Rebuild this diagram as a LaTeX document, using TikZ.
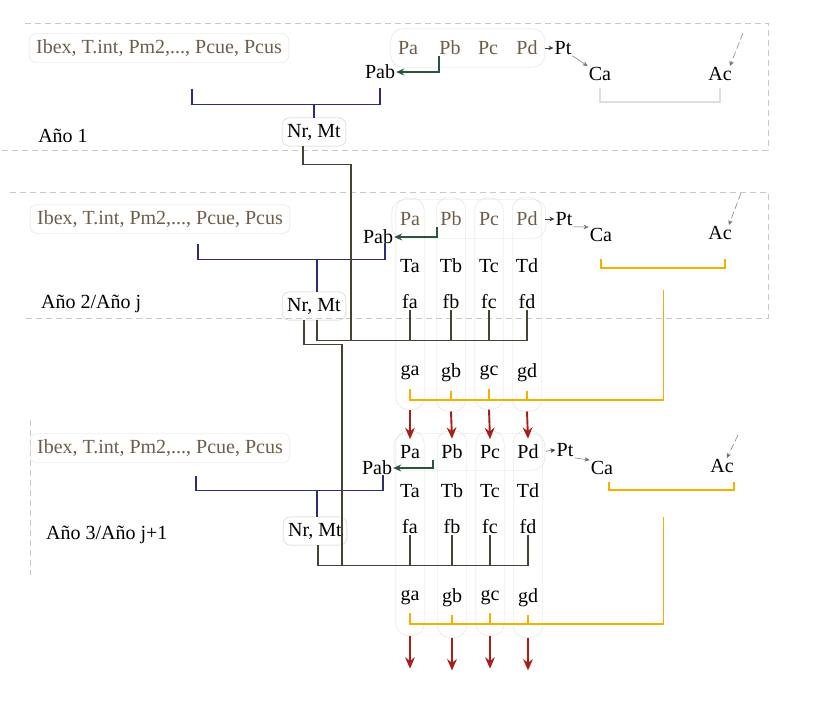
\documentclass[tikz,border=0pt]{standalone}
\usepackage{fontspec}
\setmainfont{Liberation Serif}
\usetikzlibrary{arrows.meta,positioning,calc,fit}
\definecolor{diagbrown} {RGB}{110,92,72}
\definecolor{diagblue}  {RGB}{45,45,125}
\definecolor{diagolive} {RGB}{72,66,50}
\definecolor{diaggreen} {RGB}{40,85,60}
\definecolor{diagorange}{RGB}{248,176,0}
\definecolor{diagred}   {RGB}{170,30,25}
\definecolor{diaggray}  {RGB}{200,200,200}
\definecolor{diaglight} {RGB}{222,222,222}

\begin{document}
\begin{tikzpicture}[
  x=1pt, y=-1pt,
  every node/.style={font=\fontsize{20}{22}\selectfont, inner sep=1pt},
  inbox/.style={text=diagbrown, draw=diaglight, rounded corners=7pt, inner xsep=7pt, inner ysep=6pt},
  nmbox/.style={draw=diaggray, rounded corners=7pt, inner xsep=5pt, inner ysep=6pt},
  capsule/.style={draw=diaglight, rounded corners=12pt},
  zone/.style={diaggray, dash pattern=on 6pt off 4pt},
  blu/.style={diagblue, line width=1.2pt},
  olv/.style={diagolive, line width=1.2pt},
  org/.style={diagorange, line width=1.6pt},
  redarr/.style={diagred, line width=1.9pt, -{Stealth[length=4mm,width=3.4mm]}},
  grnarr/.style={diaggreen, line width=1.4pt, -{Stealth[length=2.8mm,width=2.4mm]}},
  tip/.style={black!75, line width=0.5pt, -{Stealth[length=1.8mm,width=1.6mm]}},
]
\useasboundingbox (0,0) rectangle (814,701);

%% Year zones
\draw[zone] (25,23) -- (768,23) -- (768,150) -- (0,150);
\draw[zone] (10,192) -- (768,192) -- (768,318) -- (25,318);
\draw[zone] (30,420) -- (30,575);

%% ---------------- Year 1 ----------------
\node[inbox] (in1) at (159,48) {Ibex, T.int, Pm2,..., Pcue, Pcus};
\foreach \c/\x in {a/408,b/450,c/488,d/527}
  \node[text=diagbrown] (p1\c) at (\x,48) {P\c};
\node[capsule, fit=(p1a)(p1d), inner xsep=6pt, inner ysep=11pt] (row1) {};
\node (pab1) at (380,72) {Pab};
\node (pt1) at (563,48) {Pt};
\node (ca1) at (600,74) {Ca};
\node (ac1) at (720,74) {Ac};
\node[nmbox] (nm1) at (314,132) {Nr, Mt};
\node (yr1) at (63,136) {Año 1};
\coordinate (ain1) at (743,33);

\draw[grnarr] ([xshift=-11pt]p1b.south) |- (pab1.east);
\draw[tip, shorten <=6pt] (p1d.east) -- (pt1.west);
\draw[tip, black!55] (pt1.south east) -- (ca1.north west);
\draw[tip, black!55, dash pattern=on 7pt off 3pt] (ain1) -- ([xshift=-3pt]ac1.north east);
\draw[blu] ([xshift=33pt,yshift=-26pt]in1.south) -- ++(0,16) coordinate (bl1)
  -| ([yshift=-8pt]pab1.south);
\draw[blu] (nm1.north) -- (nm1.north |- bl1);
\draw[diaglight, line width=1.3pt] ([yshift=-6pt]ca1.south) -- ++(0,14)
  -| ([yshift=-6pt]ac1.south);

%% ---------------- Year 2 / j ----------------
\node[inbox] (in2) at (160,219) {Ibex, T.int, Pm2,..., Pcue, Pcus};
\node[nmbox] (nm2) at (314,306) {Nr, Mt};
\node[anchor=west] (yr2) at (40,304) {Año 2/Año j};
\node (pab2) at (378,237) {Pab};
\foreach \c/\x in {a/410,b/451,c/489,d/527}{
  \node[text=diagbrown] (p2\c) at (\x,219) {P\c};
  \node (t2\c) at (\x,266) {T\c};
  \node (f2\c) at (\x,302) {f\c};
  \node (g2\c) at (\x,373) {g\c};
  \coordinate (e2\c) at ([yshift=-15pt]g2\c.south);
  \node[capsule, fit=(p2\c)(e2\c), inner xsep=3pt, inner ysep=13pt] (c2\c) {};
}
\node[capsule, fit=(p2a)(p2d), inner xsep=7pt, inner ysep=11pt] (row2) {};
\node (pt2) at (564,219) {Pt};
\node (ca2) at (601,235) {Ca};
\node (ac2) at (720,233) {Ac};
\coordinate (ain2) at (741,193);

\draw[grnarr] ([xshift=-14pt]p2b.south) |- (pab2.east);
\draw[tip, shorten <=6pt] (p2d.east) -- (pt2.west);
\draw[tip, black!55] (pt2.south east) -- (ca2.north west);
\draw[tip, black!55, dash pattern=on 7pt off 3pt] (ain2) -- ([xshift=-4pt]ac2.north east);
\draw[blu] ([xshift=38pt,yshift=-10pt]in2.south) -- ++(0,16) coordinate (bl2)
  -| ([xshift=7pt,yshift=2pt]pab2.south);
\draw[blu] ([xshift=3pt]nm2.north) -- ([xshift=3pt]nm2.north |- bl2);
\draw[olv] ([xshift=3pt]nm2.south) -- ++(0,20) coordinate (bar2) -| (f2d.south);
\foreach \c in {a,b,c}
  \draw[olv] (f2\c.south) -- (f2\c.south |- bar2);
\draw[olv] ([xshift=-11pt]nm1.south) -- ++(0,18) -- ++(48,0) coordinate (k1) -- (k1 |- bar2);
\draw[org] ([yshift=-16pt]ca2.south) -- ++(0,9) coordinate (cb2)
  -| ([xshift=5pt,yshift=-18pt]ac2.south);
\coordinate (om2) at ($(cb2)!0.5!(cb2 -| ac2.south)$);
\draw[org] ([xshift=3pt,yshift=-22pt]om2) -- ++(0,110) coordinate (ob2)
  -| ([yshift=-8pt]g2a.south);
\foreach \c in {b,c,d}
  \draw[org] ([yshift=-8pt]g2\c.south) -- (g2\c.south |- ob2);

%% ---------------- Year 3 / j+1 ----------------
\node[inbox] (in3) at (160,448) {Ibex, T.int, Pm2,..., Pcue, Pcus};
\node[nmbox] (nm3) at (315,531) {Nr, Mt};
\node[anchor=west] (yr3) at (45,535) {Año 3/Año j+1};
\node (pab3) at (377,468) {Pab};
\foreach \c/\x in {a/410,b/452,c/490,d/528}{
  \node (p3\c) at (\x,452) {P\c};
  \node (t3\c) at (\x,491) {T\c};
  \node (f3\c) at (\x,527) {f\c};
  \node (g3\c) at (\x,598) {g\c};
  \coordinate (e3\c) at ([yshift=-16pt]g3\c.south);
  \node[capsule, fit=(p3\c)(e3\c), inner xsep=3pt, inner ysep=13pt] (c3\c) {};
}
\node[capsule, fit=(p3a)(p3d), inner xsep=5pt, inner ysep=10pt] (row3) {};
\node (pt3) at (565,450) {Pt};
\node (ca3) at (602,468) {Ca};
\node (ac3) at (722,466) {Ac};
\coordinate (ain3) at (738,435);

\draw[grnarr] ([xshift=-19pt]p3b.south) |- (pab3.east);
\draw[tip, shorten <=6pt] (p3d.east) -- (pt3.west);
\draw[tip, black!55] (pt3.south east) -- (ca3.north west);
\draw[tip, black!55, dash pattern=on 7pt off 3pt] (ain3) -- ([xshift=-8pt]ac3.north east);
\draw[blu] ([xshift=36pt,yshift=-13pt]in3.south) -- ++(0,15) coordinate (bl3)
  -| ([xshift=6pt,yshift=1pt]pab3.south);
\draw[blu] ([xshift=2pt]nm3.north) -- ([xshift=2pt]nm3.north |- bl3);
\draw[olv] ([xshift=3pt]nm3.south) -- ++(0,20.5) coordinate (bar3) -| (f3d.south);
\foreach \c in {a,b,c}
  \draw[olv] (f3\c.south) -- (f3\c.south |- bar3);
\draw[olv] ([xshift=-10pt]nm2.south) -- ++(0,24) -- ++(38,0) coordinate (k2) -- (k2 |- bar3);
\draw[org] ([xshift=7pt,yshift=-6pt]ca3.south) -- ++(0,8) coordinate (cb3)
  -| ([xshift=12pt,yshift=-8pt]ac3.south);
\coordinate (om3) at ($(cb3)!0.5!(cb3 -| ac3.south)$);
\draw[org] ([xshift=-2pt,yshift=-27pt]om3) -- ++(0,107) coordinate (ob3)
  -| ([yshift=-7pt]g3a.south);
\foreach \c in {b,c,d}
  \draw[org] ([yshift=-7pt]g3\c.south) -- (g3\c.south |- ob3);

%% Carry-over and output arrows
\foreach \c in {a,b,c,d}{
  \draw[redarr] (c2\c.south) -- ([yshift=5pt]p3\c.north);
  \draw[redarr] (c3\c.south) -- ++(0,33);
}

\end{tikzpicture}
\end{document}
